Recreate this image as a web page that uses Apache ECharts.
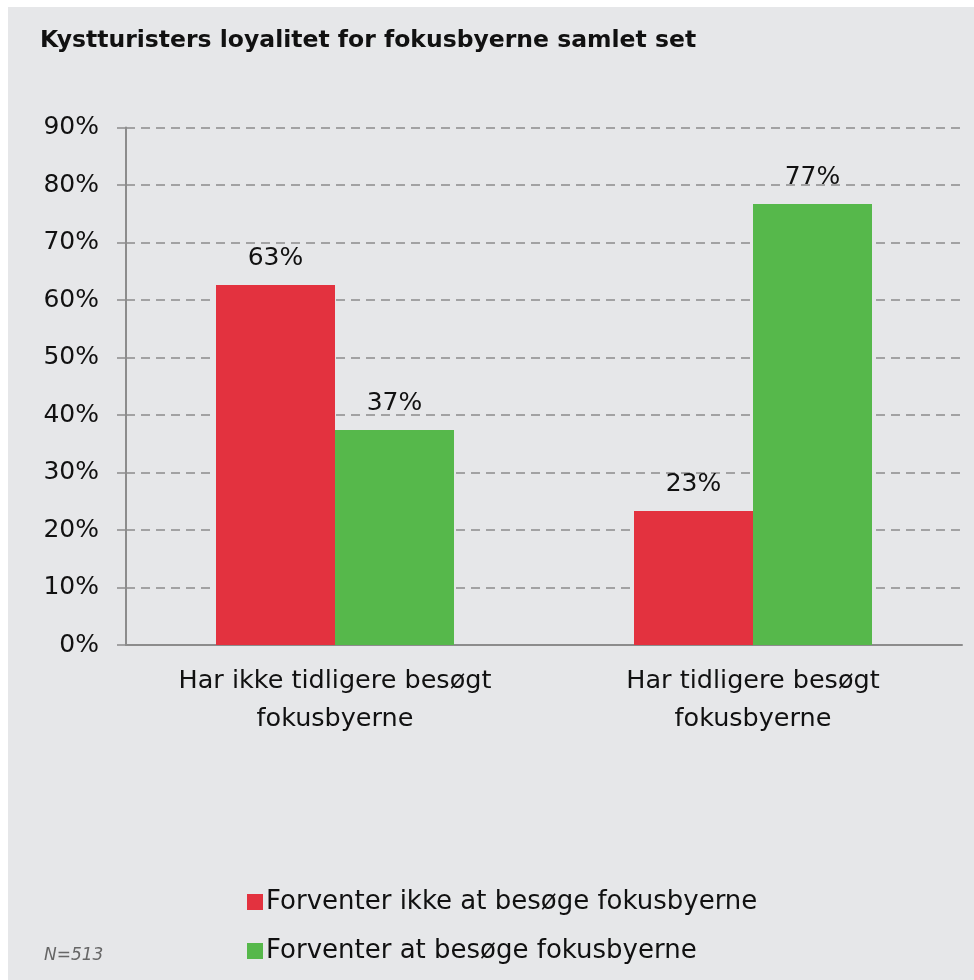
<!DOCTYPE html>
<html>
<head>
<meta charset="utf-8">
<script src="https://cdn.jsdelivr.net/npm/echarts@6/dist/echarts.min.js"></script>
<style>
  html, body { margin: 0; padding: 0; background: #ffffff; }
  #chart { width: 974px; height: 980px; }
</style>
</head>
<body>
<div id="chart"></div>
<script>
// data
var categories = ["Har ikke tidligere besøgt\nfokusbyerne", "Har tidligere besøgt\nfokusbyerne"];
var seriesNames = ["Forventer ikke at besøge fokusbyerne", "Forventer at besøge fokusbyerne"];
var notExpect = [62.6, 23.3];
var expect = [37.4, 76.7];

var red = "#e3323f";
var green = "#56b84b";
var grey = "#8c8c8c";
var font = "DejaVu Sans";

var myChart = echarts.init(document.getElementById("chart"));
var option = {
  backgroundColor: "#ffffff",
  animation: false,
  graphic: [
    {
      type: "rect",
      z: -10,
      shape: { x: 8, y: 7, width: 966, height: 973 },
      style: { fill: "#e6e7e9" }
    },
    {
      type: "text",
      left: 40,
      top: 29,
      style: {
        text: "Kystturisters loyalitet for fokusbyerne samlet set",
        font: "bold 23.5px " + font,
        fill: "#111111"
      }
    },
    {
      type: "text",
      left: 44,
      top: 947,
      style: {
        text: "N=513",
        font: "italic 17px " + font,
        fill: "#666666"
      }
    }
  ],
  legend: [
    {
      data: [seriesNames[0]],
      left: 242,
      top: 884,
      icon: "rect",
      itemWidth: 16,
      itemHeight: 16,
      textStyle: { fontFamily: font, fontSize: 26, color: "#111111", padding: [0, 0, 0, -2] }
    },
    {
      data: [seriesNames[1]],
      left: 242,
      top: 933,
      icon: "rect",
      itemWidth: 16,
      itemHeight: 16,
      textStyle: { fontFamily: font, fontSize: 26, color: "#111111", padding: [0, 0, 0, -2] }
    }
  ],
  grid: {
    left: 126,
    right: 12,
    top: 127.5,
    bottom: 335,
    containLabel: false
  },
  xAxis: {
    type: "category",
    data: categories,
    axisLine: { show: true, lineStyle: { color: grey, width: 2 } },
    axisTick: { show: false },
    axisLabel: {
      fontFamily: font,
      fontSize: 25.5,
      color: "#111111",
      lineHeight: 38,
      margin: 17
    }
  },
  yAxis: {
    type: "value",
    min: 0,
    max: 90,
    interval: 10,
    axisLine: { show: true, lineStyle: { color: grey, width: 2 } },
    axisTick: { show: true, length: 9, lineStyle: { color: grey, width: 1.5 } },
    axisLabel: {
      fontFamily: font,
      fontSize: 25,
      color: "#111111",
      margin: 27,
      formatter: function (v) { return v + "%"; }
    },
    splitLine: {
      show: true,
      lineStyle: { color: grey, type: [9, 6], width: 1.5 }
    }
  },
  series: [
    {
      name: seriesNames[0],
      type: "bar",
      data: notExpect,
      barWidth: 119,
      barGap: "0%",
      itemStyle: { color: red },
      label: {
        show: true,
        position: "top",
        distance: 14,
        fontFamily: font,
        fontSize: 25,
        color: "#111111",
        formatter: function (p) { return Math.round(p.value) + "%"; }
      }
    },
    {
      name: seriesNames[1],
      type: "bar",
      data: expect,
      barWidth: 119,
      barGap: "0%",
      itemStyle: { color: green },
      label: {
        show: true,
        position: "top",
        distance: 14,
        fontFamily: font,
        fontSize: 25,
        color: "#111111",
        formatter: function (p) { return Math.round(p.value) + "%"; }
      }
    }
  ]
};
myChart.setOption(option);
</script>
</body>
</html>
